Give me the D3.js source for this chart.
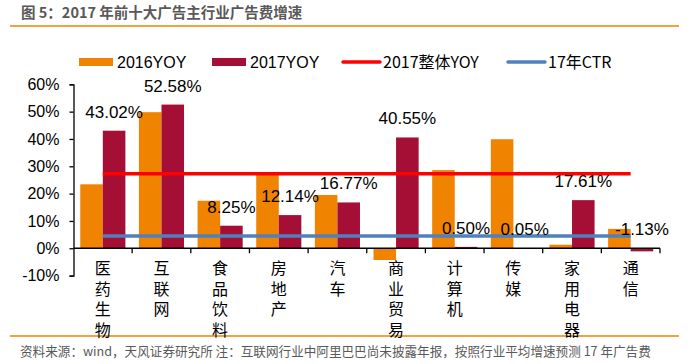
<!DOCTYPE html>
<html>
<head>
<meta charset="utf-8">
<script src="https://cdn.jsdelivr.net/npm/d3@7"></script>
<style>
  body { margin: 0; background: #fff; }
  svg text { font-family: "Liberation Sans", Arial, sans-serif; }
  .cjk { font-family: "Noto Sans CJK SC", "Liberation Sans", sans-serif; }
</style>
</head>
<body>
<div id="chart"></div>
<script>
const categories = ['医药生物', '互联网', '食品饮料', '房地产', '汽车', '商业贸易', '计算机', '传媒', '家用电器', '通信'];
const yoy2016 = [23.4, 49.8, 17.4, 27.5, 19.5, -4.3, 28.6, 39.9, 1.3, 7.1];
const yoy2017 = [43.02, 52.58, 8.25, 12.14, 16.77, 40.55, 0.50, 0.05, 17.61, -1.13];
const total2017 = [27.3, 27.3, 27.3, 27.3, 27.3, 27.3, 27.3, 27.3, 27.3, 27.3];
const ctr17 = [4.5, 4.5, 4.5, 4.5, 4.5, 4.5, 4.5, 4.5, 4.5, 4.5];
const yTicks = [-10, 0, 10, 20, 30, 40, 50, 60];
const seriesNames = ['2016YOY', '2017YOY'];

const width = 691;
const height = 364;
const colors = { '2016YOY': '#f08300', '2017YOY': '#a50f35' };

const svg = d3.select('#chart')
  .append('svg')
  .attr('width', width)
  .attr('height', height);

// title + rules
svg.append('text')
  .attr('class', 'cjk')
  .attr('x', 21)
  .attr('y', 18)
  .attr('fill', '#595959')
  .style('font-size', '14.5px')
  .style('font-weight', 'bold')
  .text('图 5：2017 年前十大广告主行业广告费增速');
svg.append('line')
  .attr('x1', 10).attr('x2', 679)
  .attr('y1', 26).attr('y2', 26)
  .attr('stroke', '#f08300').attr('stroke-width', 1.5);
svg.append('line')
  .attr('x1', 10).attr('x2', 679)
  .attr('y1', 336).attr('y2', 336)
  .attr('stroke', '#f08300').attr('stroke-width', 1.5);
svg.append('text')
  .attr('class', 'cjk')
  .attr('x', 20)
  .attr('y', 356)
  .attr('fill', '#595959')
  .style('font-size', '12.6px')
  .text('资料来源：wind，天风证券研究所 注：互联网行业中阿里巴巴尚未披露年报，按照行业平均增速预测 17 年广告费');

// scales
const x = d3.scaleBand()
  .domain(categories)
  .range([73.5, 660]);
const x1 = d3.scaleBand()
  .domain(seriesNames)
  .range([0, x.bandwidth()])
  .paddingOuter(0.3);
const y = d3.scaleLinear()
  .domain([-10, 60])
  .range([275.6, 84.3]);

// y axis
const yAxis = svg.append('g')
  .attr('transform', 'translate(73.5,0)')
  .call(d3.axisLeft(y).tickValues(yTicks).tickSize(4).tickPadding(10).tickFormat(d => d + '%'));
yAxis.select('.domain').attr('stroke', '#000').attr('stroke-width', 1.3);
yAxis.selectAll('.tick line').attr('stroke', '#000').attr('stroke-width', 1.3);
yAxis.selectAll('.tick text')
  .attr('fill', '#000')
  .style('font-size', '16px')
  .style('font-family', '"Liberation Sans", Arial, sans-serif');

// bars
const rows = categories.map((c, i) => ({ cat: c, vals: [yoy2016[i], yoy2017[i]] }));
const groups = svg.append('g')
  .selectAll('g')
  .data(rows)
  .join('g')
  .attr('transform', d => `translate(${x(d.cat)},0)`);
groups.selectAll('rect')
  .data(d => d.vals.map((v, j) => ({ key: seriesNames[j], v })))
  .join('rect')
  .attr('x', d => x1(d.key))
  .attr('width', x1.bandwidth())
  .attr('y', d => y(Math.max(0, d.v)))
  .attr('height', d => Math.abs(y(d.v) - y(0)))
  .attr('fill', d => colors[d.key]);

// x axis at zero
const xAxis = svg.append('g')
  .attr('transform', `translate(0,${y(0)})`);
xAxis.append('line')
  .attr('x1', 73.5).attr('x2', 660)
  .attr('stroke', '#000').attr('stroke-width', 1.3);
xAxis.selectAll('.tk')
  .data(categories)
  .join('line')
  .attr('class', 'tk')
  .attr('x1', d => x(d) + x.bandwidth())
  .attr('x2', d => x(d) + x.bandwidth())
  .attr('y1', 0).attr('y2', 5)
  .attr('stroke', '#000').attr('stroke-width', 1.3);

// category labels, one character per line
const catLabels = svg.append('g')
  .selectAll('g')
  .data(categories)
  .join('g');
catLabels.each(function(d) {
  const g = d3.select(this);
  d.split('').forEach((ch, k) => {
    g.append('text')
      .attr('class', 'cjk')
      .attr('text-anchor', 'middle')
      .attr('fill', '#000')
      .style('font-size', '16px')
      .attr('x', x(d) + x.bandwidth() / 2)
      .attr('y', 274 + k * 20.7)
      .text(ch);
  });
});

// lines
const lineGen = d3.line()
  .x((d, i) => x(categories[i]) + x.bandwidth() / 2)
  .y(d => y(d));
svg.append('path')
  .datum(total2017)
  .attr('d', lineGen)
  .attr('fill', 'none')
  .attr('stroke', '#ff0000')
  .attr('stroke-width', 3.5);
svg.append('path')
  .datum(ctr17)
  .attr('d', lineGen)
  .attr('fill', 'none')
  .attr('stroke', '#4f81bd')
  .attr('stroke-width', 3.5);

// data labels for 2017
svg.append('g')
  .selectAll('text')
  .data(rows)
  .join('text')
  .attr('text-anchor', 'middle')
  .attr('fill', '#000')
  .style('font-size', '17px')
  .attr('x', d => x(d.cat) + x1('2017YOY') + x1.bandwidth() / 2)
  .attr('y', d => y(Math.max(0, d.vals[1])) - 13)
  .text(d => d.vals[1].toFixed(2) + '%');

// legend
const legendItems = [
  { name: '2016YOY', type: 'rect', color: colors['2016YOY'], x: 79 },
  { name: '2017YOY', type: 'rect', color: colors['2017YOY'], x: 212 },
  { name: '2017整体YOY', type: 'line', color: '#ff0000', x: 343 },
  { name: '17年CTR', type: 'line', color: '#4f81bd', x: 508 }
];
const legend = svg.append('g')
  .selectAll('g')
  .data(legendItems)
  .join('g')
  .attr('transform', d => `translate(${d.x},62)`);
legend.filter(d => d.type === 'rect')
  .append('rect')
  .attr('x', 0).attr('y', -4)
  .attr('width', 34).attr('height', 8)
  .attr('fill', d => d.color);
legend.filter(d => d.type === 'line')
  .append('line')
  .attr('x1', 0).attr('x2', 37)
  .attr('stroke', d => d.color)
  .attr('stroke-width', 3.5)
  .attr('stroke-linecap', 'round');
legend.append('text')
  .attr('class', d => d.type === 'line' ? 'cjk' : null)
  .attr('x', d => d.type === 'rect' ? 38 : 40)
  .attr('y', 6)
  .attr('fill', '#000')
  .style('font-size', '16px')
  .text(d => d.name);
</script>
</body>
</html>
